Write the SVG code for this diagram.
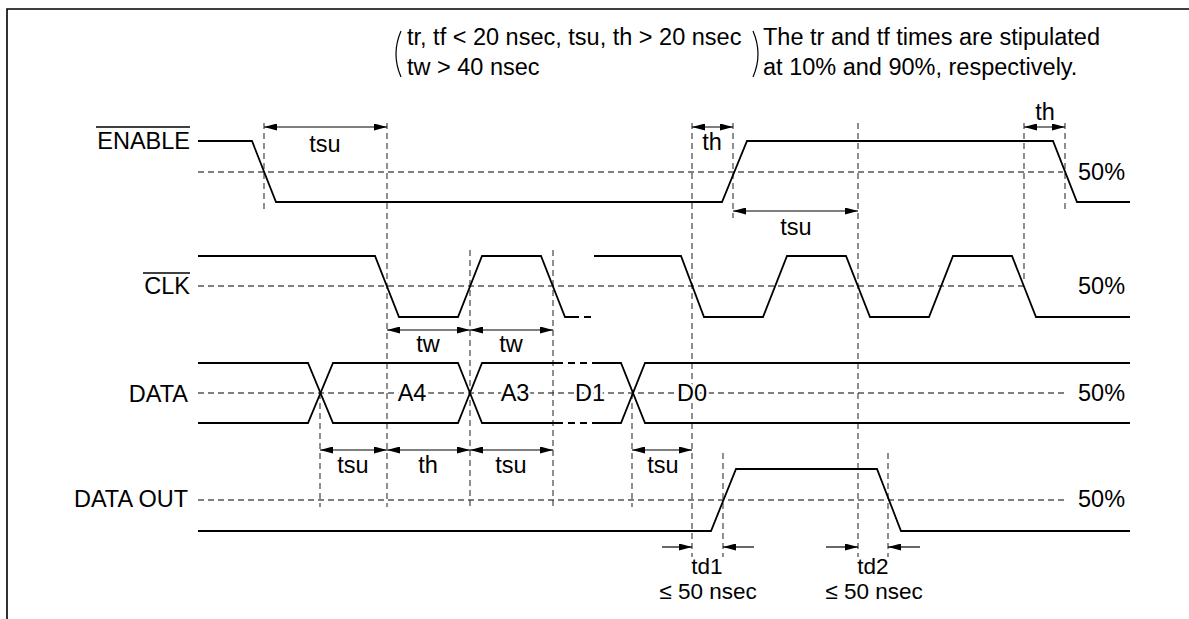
<svg xmlns="http://www.w3.org/2000/svg" width="1189" height="619" viewBox="0 0 1189 619">
<defs>
<marker id="ah" viewBox="0 0 13 7" refX="13" refY="3.5" markerWidth="13" markerHeight="7" markerUnits="userSpaceOnUse" orient="auto-start-reverse">
<path d="M0,0 L13,3.5 L0,7 z" fill="#000"/>
</marker>
<style>
text{font-family:"Liberation Sans",Arial,sans-serif;font-size:23.5px;fill:#000}
.mid{text-anchor:middle}
.end{text-anchor:end}
.halo{stroke:#fff;stroke-width:5;paint-order:stroke}
.sig{fill:none;stroke:#000;stroke-width:1.8}
.ref{fill:none;stroke:#000;stroke-width:1.1;stroke-dasharray:6 4}
.vd{fill:none;stroke:#333;stroke-width:1.1;stroke-dasharray:6 4}
.arr{stroke:#000;stroke-width:1.2;marker-end:url(#ah)}
.arr2{stroke:#000;stroke-width:1.2;marker-start:url(#ah);marker-end:url(#ah)}
.ob{stroke:#000;stroke-width:1.3}
.sm{font-size:22.5px}
</style>
</defs>
<rect width="1189" height="619" fill="#fff"/>
<path d="M7,619 V9 H1189" fill="none" stroke="#000" stroke-width="1.6"/>

<g id="note">
<path d="M401,31 Q391,54 401,77" fill="none" stroke="#000" stroke-width="1.2"/>
<path d="M753,31 Q763,54 753,77" fill="none" stroke="#000" stroke-width="1.2"/>
<text x="407" y="45">tr, tf &lt; 20 nsec, tsu, th &gt; 20 nsec</text>
<text x="407" y="75">tw &gt; 40 nsec</text>
<text x="763" y="45">The tr and tf times are stipulated</text>
<text x="763" y="75">at 10% and 90%, respectively.</text>
</g>

<g id="reference-lines">
<line class="ref" x1="198" y1="172" x2="1063" y2="172"/>
<line class="ref" x1="198" y1="286" x2="1024" y2="286"/>
<line class="ref" x1="198" y1="393" x2="1067" y2="393"/>
<line class="ref" x1="198" y1="500" x2="1067" y2="500"/>
<line class="vd" x1="264" y1="123" x2="264" y2="210"/>
<line class="vd" x1="387" y1="123" x2="387" y2="507"/>
<line class="vd" x1="692" y1="123" x2="692" y2="557"/>
<line class="vd" x1="733" y1="123" x2="733" y2="218"/>
<line class="vd" x1="858" y1="123" x2="858" y2="557"/>
<line class="vd" x1="1024" y1="123" x2="1024" y2="283"/>
<line class="vd" x1="1065" y1="123" x2="1065" y2="210"/>
<line class="vd" x1="320" y1="393" x2="320" y2="507"/>
<line class="vd" x1="470" y1="250" x2="470" y2="507"/>
<line class="vd" x1="553" y1="250" x2="553" y2="507"/>
<line class="vd" x1="632" y1="393" x2="632" y2="507"/>
<line class="vd" x1="723" y1="453" x2="723" y2="557"/>
<line class="vd" x1="888" y1="453" x2="888" y2="557"/>
</g>

<g id="enable">
<text class="end" x="190" y="149">ENABLE</text>
<line class="ob" x1="96" y1="127" x2="190" y2="127"/>
<path class="sig" d="M198,141 H252 L276,202 H722 L747,141 H1053 L1077,202 H1130"/>
<text x="1078" y="180">50%</text>
</g>

<g id="clk">
<text class="end" x="190" y="294">CLK</text>
<line class="ob" x1="143" y1="273" x2="190" y2="273"/>
<path class="sig" d="M198,256 H375 L399,317 H458 L482,256 H541 L565,317 H572"/>
<path class="sig" d="M572,317 H594" stroke-dasharray="7 5" stroke-width="1.4"/>
<path class="sig" d="M594,256 H681 L704,317 H763 L787,256 H846 L870,317 H929 L953,256 H1012 L1036,317 H1130"/>
<text x="1078" y="294">50%</text>
</g>

<g id="data">
<text class="end" x="188" y="402">DATA</text>
<path class="sig" d="M198,363 H308 L333,423 H458 L482,363 H556"/>
<path class="sig" d="M198,423 H308 L333,363 H458 L482,423 H556"/>
<path class="sig" d="M556,363 H596 M556,423 H596" stroke-dasharray="7 5" stroke-width="1.4"/>
<path class="sig" d="M596,363 H621 L645,423 H1130"/>
<path class="sig" d="M596,423 H621 L645,363 H1130"/>
<text class="mid halo" x="412" y="401">A4</text>
<text class="mid halo" x="515" y="401">A3</text>
<text class="mid halo" x="590" y="401">D1</text>
<text class="mid halo" x="692" y="401">D0</text>
<text x="1078" y="401">50%</text>
</g>

<g id="data-out">
<text class="end" x="188" y="507">DATA OUT</text>
<path class="sig" d="M198,531 H711 L736,469 H877 L901,531 H1130"/>
<text x="1078" y="507">50%</text>
</g>

<g id="connectors">
<line class="arr2" x1="264" y1="127" x2="387" y2="127"/>
<line class="arr2" x1="692" y1="127" x2="733" y2="127"/>
<line class="arr2" x1="1024" y1="127" x2="1065" y2="127"/>
<line class="arr2" x1="733" y1="211" x2="858" y2="211"/>
<line class="arr2" x1="387" y1="330" x2="470" y2="330"/>
<line class="arr2" x1="470" y1="330" x2="553" y2="330"/>
<line class="arr2" x1="320" y1="450" x2="387" y2="450"/>
<line class="arr2" x1="387" y1="450" x2="470" y2="450"/>
<line class="arr2" x1="470" y1="450" x2="553" y2="450"/>
<line class="arr2" x1="632" y1="450" x2="692" y2="450"/>
<line class="arr" x1="662" y1="547" x2="692" y2="547"/>
<line class="arr" x1="754" y1="547" x2="723" y2="547"/>
<line class="arr" x1="826" y1="547" x2="858" y2="547"/>
<line class="arr" x1="920" y1="547" x2="888" y2="547"/>
</g>

<g id="timing-labels">
<text class="mid" x="325" y="152">tsu</text>
<text class="mid" x="712" y="150">th</text>
<text class="mid" x="1045" y="120">th</text>
<text class="mid" x="796" y="235">tsu</text>
<text class="mid" x="428" y="352">tw</text>
<text class="mid" x="511" y="352">tw</text>
<text class="mid" x="353" y="473">tsu</text>
<text class="mid" x="428" y="473">th</text>
<text class="mid" x="511" y="473">tsu</text>
<text class="mid" x="663" y="473">tsu</text>
<text class="mid sm" x="707" y="574">td1</text>
<text class="mid sm" x="708" y="599">≤ 50 nsec</text>
<text class="mid sm" x="873" y="574">td2</text>
<text class="mid sm" x="874" y="599">≤ 50 nsec</text>
</g>
</svg>
